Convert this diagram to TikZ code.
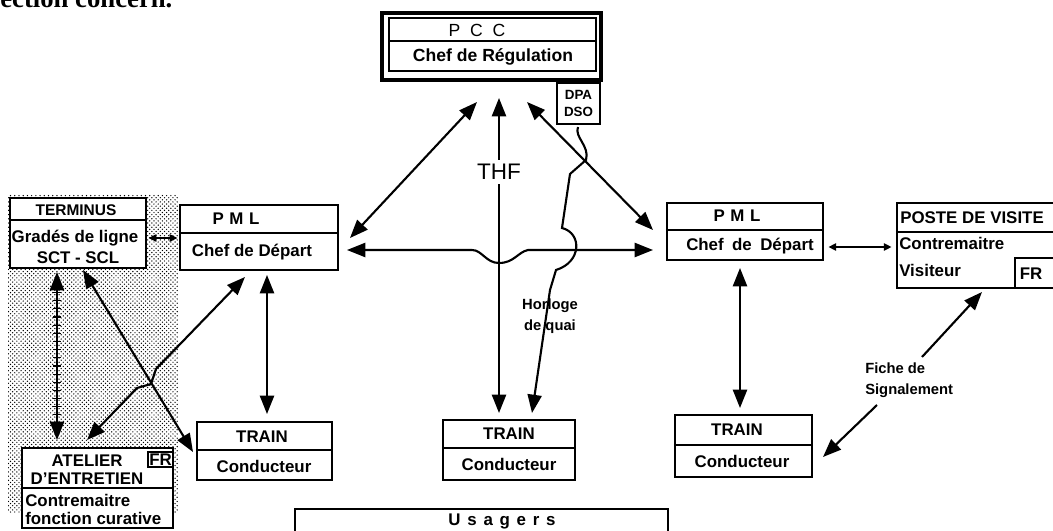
\documentclass[tikz,border=0pt]{standalone}
\usepackage{fontspec}
\setmainfont{Liberation Sans}
\newfontfamily\serifb{Liberation Serif}
\usetikzlibrary{arrows.meta,patterns,fit}
\begin{document}
\begin{tikzpicture}[x=0.025cm,y=-0.025cm,
 box/.style={draw,line width=1.6pt,fill=white,inner sep=0pt},
 rule/.style={line width=1.3pt},
 txt/.style={inner sep=0pt,font=\fontsize{12}{13}\selectfont\bfseries},
 sm/.style={inner sep=0pt,font=\fontsize{10.5}{15}\selectfont\bfseries},
 con/.style={line width=1.5pt,>={Triangle[length=13pt,width=10pt]}},
 scon/.style={line width=1.5pt,>={Triangle[length=5.5pt,width=5pt]}}]
\useasboundingbox (0,0) rectangle (1053,531);

% clipped heading fragment
\begin{scope}
\clip (0,0) rectangle (400,20);
\node[anchor=base west,inner sep=0pt,font=\serifb\fontsize{19}{20}\selectfont\bfseries] (head) at (0,8) {ection concern.};
\end{scope}

% shaded zone
\fill[pattern=crosshatch dots,pattern color=black] (8,195) rectangle (178,512);

% PCC
\node[box,line width=2.8pt,fit={(382,13) (601,80)}] (pcc) {};
\draw[rule] (389,18) rectangle (596,71);
\draw[rule] (389,41) -- (596,41);
\node[txt,font=\fontsize{12.5}{13}\selectfont] (pcct) at (477,30) {P\hspace{7pt}C\hspace{7pt}C};
\node[txt,font=\fontsize{12.5}{13}\selectfont\bfseries] (pccc) at (493,57) {Chef de Régulation};
\node[box,fit={(557,83) (600,124)}] (dpa) {};
\node[inner sep=0pt,align=center,font=\fontsize{9.5}{12.5}\selectfont\bfseries] (dpat) at (578.5,103.5) {DPA\\DSO};

% TERMINUS
\node[box,fit={(10,198) (146,268)}] (term) {};
\draw[rule] (term.west |- 0,220) -- (term.east |- 0,220);
\node[txt,font=\fontsize{11}{12}\selectfont\bfseries] (termt) at (76,210) {TERMINUS};
\node[txt] (termg) at (75,238) {Gradés de ligne};
\node[txt] (terms) at (78,258) {SCT - SCL};

% PML left
\node[box,fit={(180,205) (338,270)}] (pmll) {};
\draw[rule] (pmll.west |- 0,233) -- (pmll.east |- 0,233);
\node[txt] (pmllt) at (236,219) {P\hspace{4pt}M\hspace{4pt}L};
\node[txt] (pmllc) at (252,252) {Chef de Départ};

% PML right
\node[box,fit={(667,203) (823,260)}] (pmlr) {};
\draw[rule] (pmlr.west |- 0,230) -- (pmlr.east |- 0,230);
\node[txt] (pmlrt) at (737,216) {P\hspace{4pt}M\hspace{4pt}L};
\node[txt] (pmlrc) at (750,246) {Chef\hspace{6pt}de\hspace{6pt}Départ};

% POSTE DE VISITE
\node[box,fit={(897,203) (1062,288)}] (poste) {};
\draw[rule] (poste.west |- 0,232) -- (poste.east |- 0,232);
\node[box,fit={(1015,258) (1062,288)}] (postefr) {};
\node[txt,anchor=west] (postet) at (900,218) {POSTE DE VISITE};
\node[txt,anchor=west] (postec) at (899,243) {Contremaitre};
\node[txt,anchor=west] (postev) at (899,270) {Visiteur};
\node[txt] (posterf) at (1031,274) {FR};

% TRAIN boxes
\node[box,fit={(197,422) (332,480)}] (trl) {};
\draw[rule] (trl.west |- 0,450) -- (trl.east |- 0,450);
\node[txt] (trlt) at (262,437) {TRAIN};
\node[txt] (trlc) at (264,466) {Conducteur};

\node[box,fit={(443,420) (575,480)}] (trm) {};
\draw[rule] (trm.west |- 0,448) -- (trm.east |- 0,448);
\node[txt] (trmt) at (509,434) {TRAIN};
\node[txt] (trmc) at (509,464) {Conducteur};

\node[box,fit={(675,415) (812,477)}] (trr) {};
\draw[rule] (trr.west |- 0,445) -- (trr.east |- 0,445);
\node[txt] (trrt) at (737,430) {TRAIN};
\node[txt] (trrc) at (742,461) {Conducteur};

% ATELIER
\node[box,fit={(22,448) (173,528)}] (atel) {};
\draw[rule] (atel.west |- 0,488) -- (atel.east |- 0,488);
\node[box,line width=1.2pt,fit={(148,452) (173,467)}] (atelfr) {};
\node[txt] (atelfrt) at (160.5,460) {FR};
\node[txt] (atela) at (87,461) {ATELIER};
\node[txt] (atelb) at (87,479) {D'ENTRETIEN};
\node[txt,anchor=west] (atelc) at (25,500) {Contremaitre};
\node[txt,anchor=west] (ateld) at (25,518) {fonction curative};

% Usagers
\node[box,fit={(295,509) (668,560)}] (usag) {};
\node[txt,font=\fontsize{12}{13}\selectfont\bfseries\addfontfeature{LetterSpace=40}] (usagt) at (502,521) {Usagers};

% labels
\node[inner sep=3pt,font=\fontsize{16}{17}\selectfont] (thf) at (499,172) {THF};
\node[sm,align=center] (horl) at (550,316) {Horloge\\de quai};
\node[sm,align=left,anchor=west] (fiche) at (865,380) {Fiche de\\Signalement};

% connectors
\coordinate (a1) at (477,102); \coordinate (a2) at (350,238);
\draw[con,<->] (a1) -- (a2);
\coordinate (b1) at (527,102); \coordinate (b2) at (653,230);
\draw[con,<->] (b1) -- (b2);
\coordinate (t1) at (499,98); \coordinate (t2) at (499,413);
\draw[con,->] (thf.north) -- (t1);
\draw[con,->] (thf.south) -- (t2);

\coordinate (h1) at (347,250); \coordinate (h2) at (653,250);
\draw[con,<->] (h1) -- (472,250) .. controls (482,250) and (486,263) .. (499,263) .. controls (514,263) and (518,252) .. (528,250) -- (h2);

\coordinate (w0) at (578,127); \coordinate (w1) at (532,413);
\draw[con,->] (w0) .. controls (574,137) and (590,146) .. (586,160) -- (570,174) -- (562,228) .. controls (582,233) and (582,262) .. (556,270) -- (550,290) -- (w1);

\coordinate (v1) at (267,275); \coordinate (v2) at (267,414);
\draw[con,<->] (v1) -- (v2);
\coordinate (r1) at (740,268); \coordinate (r2) at (740,408);
\draw[con,<->] (r1) -- (r2);

\coordinate (q1) at (57,272); \coordinate (q2) at (57,440);
\draw[con,<->] (q1) -- (q2);
\draw[line width=5pt,dash pattern=on 0.8pt off 5pt] (57,292) -- (57,422);

\coordinate (k1) at (83,270); \coordinate (k2) at (193,452);
\draw[con,<->] (k1) -- (k2);
\coordinate (j1) at (245,277); \coordinate (j2) at (87,440);
\draw[con,<->] (j1) -- (156,369) -- (151,384) -- (137,388) -- (j2);

\draw[scon,<->] ([xshift=1pt]term.east |- 0,238) -- ([xshift=-1pt]pmll.west |- 0,238);
\draw[scon,<->] ([xshift=3pt]pmlr.east |- 0,247) -- ([xshift=-3pt]poste.west |- 0,247);

\coordinate (f1) at (982,292); \coordinate (f2) at (823,457);
\draw[con,->] (922,357) -- (f1);
\draw[con,->] (877,405) -- (f2);
\end{tikzpicture}
\end{document}
